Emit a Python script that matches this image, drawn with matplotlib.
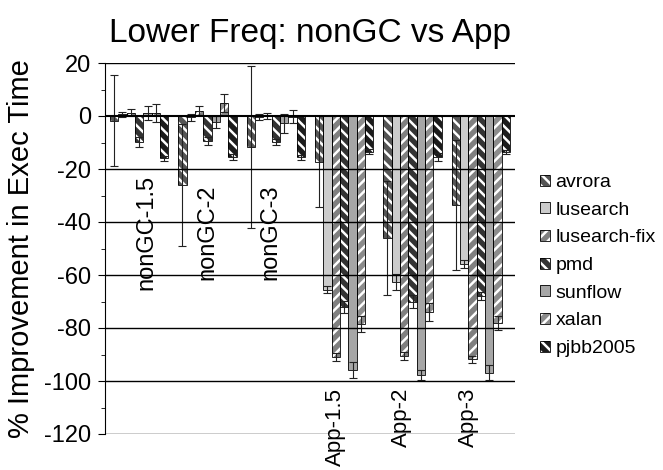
import matplotlib
matplotlib.use("Agg")
import matplotlib.pyplot as plt
from matplotlib.patches import Patch
from matplotlib.ticker import MultipleLocator
import numpy as np

plt.rcParams['font.family'] = ['Liberation Sans', 'DejaVu Sans']
plt.rcParams['hatch.linewidth'] = 1.8
plt.rcParams['axes.unicode_minus'] = False

# 数据
groups = ["nonGC-1.5", "nonGC-2", "nonGC-3", "App-1.5", "App-2", "App-3"]
benchmarks = ["avrora", "lusearch", "lusearch-fix", "pmd", "sunflow", "xalan", "pjbb2005"]

avrora = [-1.7, -26.0, -11.8, -17.2, -46.0, -33.6]
avrora_err = [17.3, 23.0, 30.5, 17.3, 21.5, 24.5]
lusearch = [0.7, -0.5, -0.3, -65.5, -62.5, -56.0]
lusearch_err = [0.9, 1.2, 1.1, 1.2, 3.0, 1.5]
lusearch_fix = [1.3, 2.0, 0.1, -91.0, -90.5, -91.8]
lusearch_fix_err = [1.2, 1.8, 1.2, 1.6, 1.6, 1.4]
pmd = [-9.8, -9.5, -9.9, -72.0, -70.0, -67.8]
pmd_err = [1.8, 1.5, 1.1, 2.2, 2.5, 1.5]
sunflow = [1.1, -2.4, -2.7, -95.8, -97.7, -96.8]
sunflow_err = [2.7, 2.3, 3.6, 3.0, 2.0, 2.8]
xalan = [1.3, 4.9, -0.2, -78.5, -74.0, -78.2]
xalan_err = [3.4, 3.3, 2.6, 3.0, 3.5, 2.6]
pjbb2005 = [-16.0, -15.5, -15.6, -13.5, -15.5, -13.5]
pjbb2005_err = [1.0, 1.2, 1.0, 1.0, 1.4, 0.8]

values = [avrora, lusearch, lusearch_fix, pmd, sunflow, xalan, pjbb2005]
errors = [avrora_err, lusearch_err, lusearch_fix_err, pmd_err, sunflow_err, xalan_err, pjbb2005_err]

# 样式 (颜色, 填充线)
face_list = ["#555555", "#cccccc", "#808080", "#333333", "#a6a6a6", "#8c8c8c", "#1c1c1c"]
hatch_list = ["\\\\\\", "", "///", "\\\\\\", "", "///", "\\\\\\"]

label_x = [0.6, 1.5, 2.42, 3.37, 4.34, 5.32]

fig = plt.figure(figsize=(6.63, 4.7), dpi=100)
ax = fig.add_axes([105/663, 1-434/470, 410/663, 371/470])

n = len(benchmarks)
w = 0.122
xx = np.arange(len(groups)) + 0.5

handles = []
for i in range(n):
    pos = xx + (i - (n-1)/2) * w
    ax.bar(pos, values[i], width=w, color=face_list[i], edgecolor="white",
           hatch=hatch_list[i], linewidth=0, zorder=2)
    ax.bar(pos, values[i], width=w, fill=False, edgecolor="black", linewidth=0.6, zorder=3)
    ax.errorbar(pos, values[i], yerr=errors[i], fmt="none", ecolor="#222222",
                elinewidth=0.8, capsize=3, capthick=0.8, zorder=4)
    handles.append((Patch(facecolor=face_list[i], edgecolor="white", hatch=hatch_list[i], linewidth=0),
                    Patch(fill=False, edgecolor="black", linewidth=0.6)))

# 网格线
for yy in range(20, -121, -20):
    if yy == 0:
        continue
    ax.axhline(yy, color="black", lw=1.0, zorder=5)
ax.axhline(0, color="black", lw=1.5, zorder=5)

ax.set_xlim(0, 6)
ax.set_ylim(-120, 20)
ax.set_xticks([])
ax.yaxis.set_major_locator(MultipleLocator(20))
ax.yaxis.set_minor_locator(MultipleLocator(10))
ax.tick_params(axis='y', which='major', direction='out', length=5, labelsize=17, pad=5)
ax.tick_params(axis='y', which='minor', direction='out', length=3)
for s in ["top", "right", "bottom"]:
    ax.spines[s].set_visible(False)
ax.spines["left"].set_linewidth(0.8)

# 分组标签
for k, g in enumerate(groups):
    if g.startswith("nonGC"):
        ax.text(label_x[k], -44, g, rotation=90, ha="center", va="center", fontsize=17)
    else:
        ax.text(label_x[k], -102.5, g, rotation=90, ha="center", va="top", fontsize=16)

ax.set_title("Lower Freq: nonGC vs App", fontsize=24, pad=15)
ax.set_ylabel("% Improvement in Exec Time", fontsize=21)
ax.yaxis.set_label_coords(-0.17, 0.5)

ax.legend(handles, benchmarks, loc="upper left", bbox_to_anchor=(540/663, 1-174/470),
          bbox_transform=fig.transFigure, frameon=False, fontsize=14,
          handlelength=0.5, handleheight=0.5, handletextpad=0.3,
          labelspacing=0.55, borderpad=0, borderaxespad=0)

fig.savefig("out.png", dpi=100)
